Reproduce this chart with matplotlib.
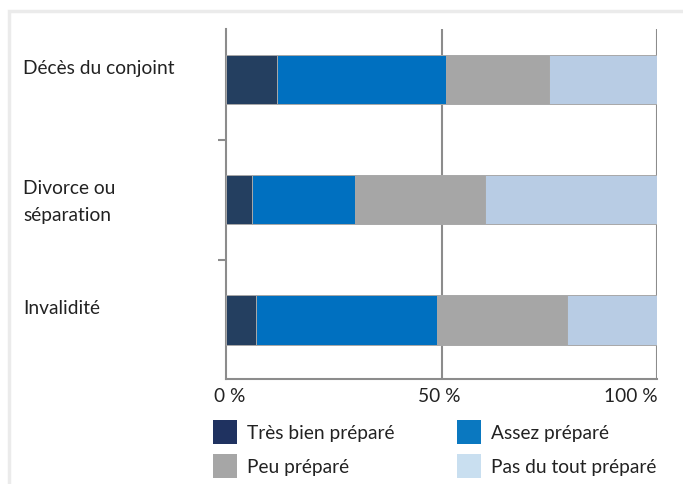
import matplotlib
matplotlib.use("Agg")
import matplotlib.pyplot as plt
from matplotlib.patches import Rectangle
import matplotlib.transforms as mtransforms
import numpy as np

plt.rcParams['font.family'] = ['Lato', 'DejaVu Sans']

categories = ["Décès du conjoint", "Divorce ou\nséparation", "Invalidité"]
series_names = ["Très bien préparé", "Assez préparé", "Peu préparé", "Pas du tout préparé"]
tres_bien = [12, 6, 7]
assez = [39, 24, 42]
peu = [24, 30, 30]
pas_du_tout = [25, 40, 21]
bar_colors = ["#243F60", "#0070C0", "#A6A6A6", "#B8CCE4"]
legend_colors = ["#1F3260", "#0A78C0", "#A6A6A6", "#C9DFF0"]
tick_values = [0, 50, 100]
tick_labels = ["0 %", "50 %", "100 %"]

W, H = 683, 485
FS = 13.8
TXT = "#222222"
fig = plt.figure(figsize=(W / 100, H / 100), dpi=100)

# light outer frame
fig.patches.append(Rectangle((9 / W, -0.1), 1.2, 1 - 12 / H + 0.1, transform=fig.transFigure,
                             fill=False, edgecolor="#EBEBEB", linewidth=2.5, zorder=0))

ax = fig.add_axes([225.7 / W, 1 - 380 / H, (657.3 - 225.7) / W, 350 / H])
y = np.arange(len(categories))
data = [tres_bien, assez, peu, pas_du_tout]
left = np.zeros(len(categories))
bar_h = 0.41
for vals, col, name in zip(data, bar_colors, series_names):
    ax.barh(y, vals, left=left, height=bar_h, color=col, edgecolor="#A8A8A8",
            linewidth=0.7, zorder=3, label=name)
    left += np.array(vals)

ax.set_xlim(0, 100)
ax.set_ylim(2.49, -0.42)

grid_c = "#8C8C8C"
for v in tick_values[1:]:
    ax.axvline(v, color=grid_c, linewidth=1.5, zorder=1)
for s in ["top", "right"]:
    ax.spines[s].set_visible(False)
for s in ["left", "bottom"]:
    ax.spines[s].set_color(grid_c)
    ax.spines[s].set_linewidth(1.5)

ax.set_yticks([0.5, 1.5])
ax.set_yticklabels([])
ax.tick_params(axis="y", length=6, width=1.5, color=grid_c)
ax.set_xticks(tick_values)
ax.set_xticklabels([])
ax.tick_params(axis="x", length=0)

# x tick labels
has = ["center", "center", "right"]
offs = [4, -2, 0]
for v, lab, ha, o in zip(tick_values, tick_labels, has, offs):
    tr = mtransforms.offset_copy(ax.get_xaxis_transform(), fig=fig, x=o, y=0, units="dots")
    ax.text(v, -8 / 350, lab, transform=tr, ha=ha, va="top", fontsize=FS, color=TXT)

# category labels
blend = mtransforms.blended_transform_factory(fig.transFigure, ax.transData)
for yi, cat in zip(y, categories):
    tr = mtransforms.offset_copy(blend, fig=fig, x=0, y=-4, units="dots")
    ax.text(23 / W, yi - bar_h / 2, cat, transform=tr, ha="left", va="top",
            fontsize=FS, color=TXT, linespacing=1.7)

# legend
leg_pos = [(213, 421), (457, 421), (213, 455), (457, 455)]
for (lx, ly), col, name in zip(leg_pos, legend_colors, series_names):
    fig.patches.append(Rectangle((lx / W, 1 - (ly + 24) / H), 24 / W, 24 / H,
                                 transform=fig.transFigure, facecolor=col, edgecolor="none"))
    fig.text((lx + 34) / W, 1 - (ly + 13) / H, name, ha="left", va="center",
             fontsize=FS, color=TXT)

fig.savefig("out.png", dpi=100)
